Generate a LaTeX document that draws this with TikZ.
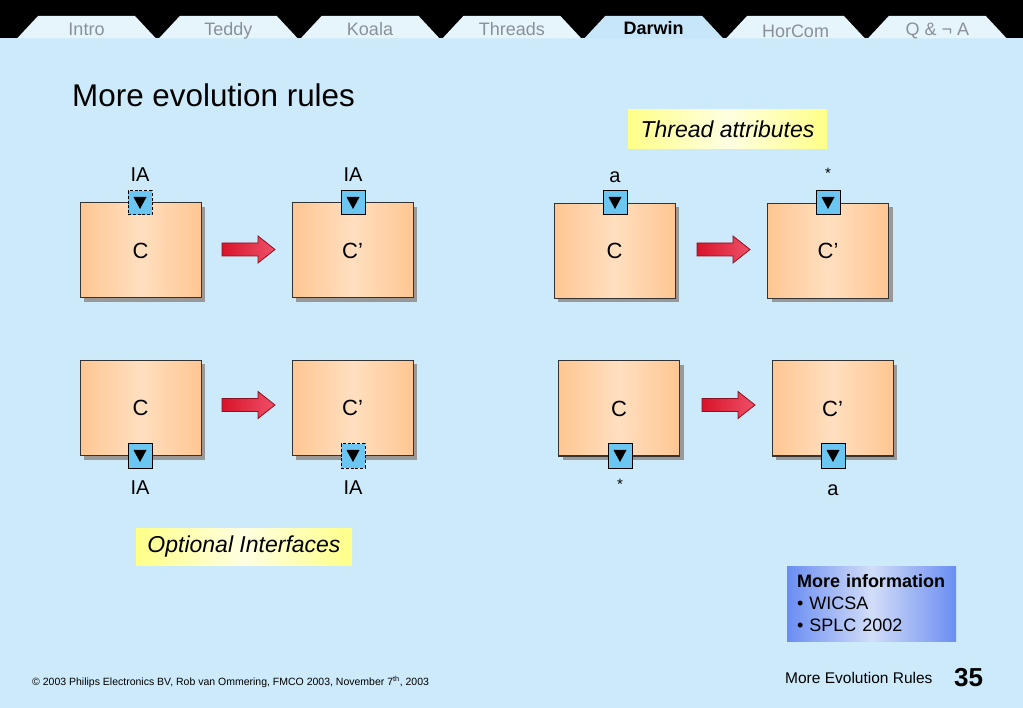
\documentclass[tikz,border=0pt]{standalone}
\usepackage{fontspec}
\setmainfont{Liberation Sans}
\usetikzlibrary{shadows}
\definecolor{bg}{HTML}{CDEAFB}
\definecolor{peach}{HTML}{FFC692}
\definecolor{peachl}{HTML}{FFDFC0}
\definecolor{ifblue}{HTML}{6CC6F2}
\definecolor{tabfill}{HTML}{E6F4FC}
\definecolor{tabact}{HTML}{C8E6FA}
\definecolor{tabtxt}{HTML}{8A9098}
\definecolor{yel}{HTML}{FFFF88}
\definecolor{yell}{HTML}{FFFFE2}
\definecolor{infob}{HTML}{6A8DF2}
\definecolor{infol}{HTML}{D2DDF8}
\definecolor{ardark}{HTML}{D8142A}
\definecolor{armid}{HTML}{F8A4B2}
\definecolor{arright}{HTML}{EE5068}
\definecolor{aredge}{HTML}{8A1020}
\newcommand\blockarrow[1]{\shade[barrow] (#1) ++(0,-6.5) -- ++(36,0) -- ++(0,-7) -- ++(17,13.5) -- ++(-17,13.5) -- ++(0,-7) -- ++(-36,0) -- cycle;}
\begin{document}
\begin{tikzpicture}[x=1pt,y=-1pt,
  cbox/.style={draw=black!80, line width=1pt, minimum width=121pt, minimum height=95pt,
    left color=peach, right color=peach, middle color=peachl,
    drop shadow={shadow xshift=4pt, shadow yshift=-4pt, fill=black!40, opacity=1},
    font=\fontsize{22}{26}\selectfont},
  iface/.style={draw=black, line width=1pt, fill=ifblue, minimum size=24pt, inner sep=0pt,
    path picture={\fill[black] ([xshift=-6.5pt,yshift=6pt]path picture bounding box.center) -- ++(13pt,0pt) -- ++(-6.5pt,-12pt) -- cycle;}},
  ifopt/.style={iface, dash pattern=on 3pt off 1.8pt},
  lbl/.style={font=\fontsize{20}{24}\selectfont, inner sep=0pt},
  barrow/.style={draw=aredge, line width=0.8pt, left color=ardark, middle color=armid, right color=arright},
  callout/.style={left color=yel, right color=yel, middle color=yell, inner sep=0pt,
    font=\fontsize{23}{27}\selectfont\itshape},
  tablbl/.style={font=\fontsize{18}{22}\selectfont, text=tabtxt, anchor=base, inner sep=0pt},
]
\useasboundingbox (0,0) rectangle (1023,708);
\fill[bg] (0,0) rectangle (1023,708);
% top band and tabs
\fill[black] (0,0) rectangle (1023,38.5);
\foreach \i in {0,...,6}{
  \pgfmathsetmacro\xa{17+141.8*\i}
  \ifnum\i=4
    \fill[tabact] (\xa,38.5) -- (\xa+21,16) -- (\xa+118,16) -- (\xa+139,38.5) -- cycle;
  \else
    \fill[tabfill] (\xa,38.5) -- (\xa+21,16) -- (\xa+118,16) -- (\xa+139,38.5) -- cycle;
  \fi
}
\node[tablbl] (t0) at (86.5,36) {Intro};
\node[tablbl] (t1) at (228.3,36) {Teddy};
\node[tablbl] (t2) at (370,36) {Koala};
\node[tablbl] (t3) at (511.9,36) {Threads};
\node[tablbl, text=black, font=\fontsize{18}{22}\selectfont\bfseries] (t4) at (653.7,35) {Darwin};
\node[tablbl] (t5) at (795.5,37.5) {HorCom};
\node[tablbl] (t6) at (937.3,36) {Q \& ¬ A};
% title
\node[anchor=base west, inner sep=0pt, font=\fontsize{31.4}{37}\selectfont] (title) at (72,107) {More evolution rules};
% callouts
\node[callout, minimum width=199pt, minimum height=39pt] (ta) at (727.5,129.5) {Thread attributes};
\node[callout, minimum width=216pt, minimum height=37pt] (oi) at (244,546.5) {Optional Interfaces};
% boxes
\node[cbox] (b1) at (140.5,250.5) {C};
\node[cbox] (b2) at (352.5,250.5) {C’};
\node[cbox] (b3) at (140.5,408) {C};
\node[cbox] (b4) at (352.5,408) {C’};
\node[cbox] (b5) at (614.5,251) {C};
\node[cbox] (b6) at (828,251) {C’};
\node[cbox] (b7) at (619,408.5) {C};
\node[cbox] (b8) at (832.5,408.5) {C’};
% interfaces
\node[ifopt] (i1) at (140,203) {};
\node[iface] (i2) at (353,203) {};
\node[iface] (i3) at (140,456) {};
\node[ifopt] (i4) at (353,456) {};
\node[iface] (i5) at (615,203) {};
\node[iface] (i6) at (828,203) {};
\node[iface] (i7) at (620,456) {};
\node[iface] (i8) at (833,456) {};
% interface labels
\node[lbl] (l1) at (140,175) {IA};
\node[lbl] (l2) at (353,175) {IA};
\node[lbl] (l3) at (140,488) {IA};
\node[lbl] (l4) at (353,488) {IA};
\node[lbl] (l5) at (615,177) {a};
\node[lbl, font=\fontsize{15}{18}\selectfont] (l6) at (828,173) {*};
\node[lbl, font=\fontsize{15}{18}\selectfont] (l7) at (620,484) {*};
\node[lbl] (l8) at (833,490) {a};
% block arrows
\coordinate (a1) at (222,249.5);
\coordinate (a2) at (222,405);
\coordinate (a3) at (697,249.5);
\coordinate (a4) at (702,405);
\blockarrow{a1}
\blockarrow{a2}
\blockarrow{a3}
\blockarrow{a4}
% more information box
\node[left color=infob, right color=infob, middle color=infol, minimum width=169pt, minimum height=75pt,
  text width=149pt, align=left, inner xsep=10pt, inner ysep=0pt, font=\fontsize{18}{22}\selectfont] (info) at (871.5,603.5)
  {\textbf{More information}\\• WICSA\\• SPLC 2002};
% footer
\node[anchor=base west, inner sep=0pt, font=\fontsize{10.5}{12}\selectfont] (copy) at (32,685)
  {© 2003 Philips Electronics BV, Rob van Ommering, FMCO 2003, November 7\textsuperscript{th}, 2003};
\node[anchor=base west, inner sep=0pt, font=\fontsize{15.5}{18}\selectfont] (foot) at (785,683) {More Evolution Rules};
\node[anchor=base west, inner sep=0pt, font=\fontsize{26}{30}\selectfont\bfseries] (page) at (954,686) {35};
\end{tikzpicture}
\end{document}
